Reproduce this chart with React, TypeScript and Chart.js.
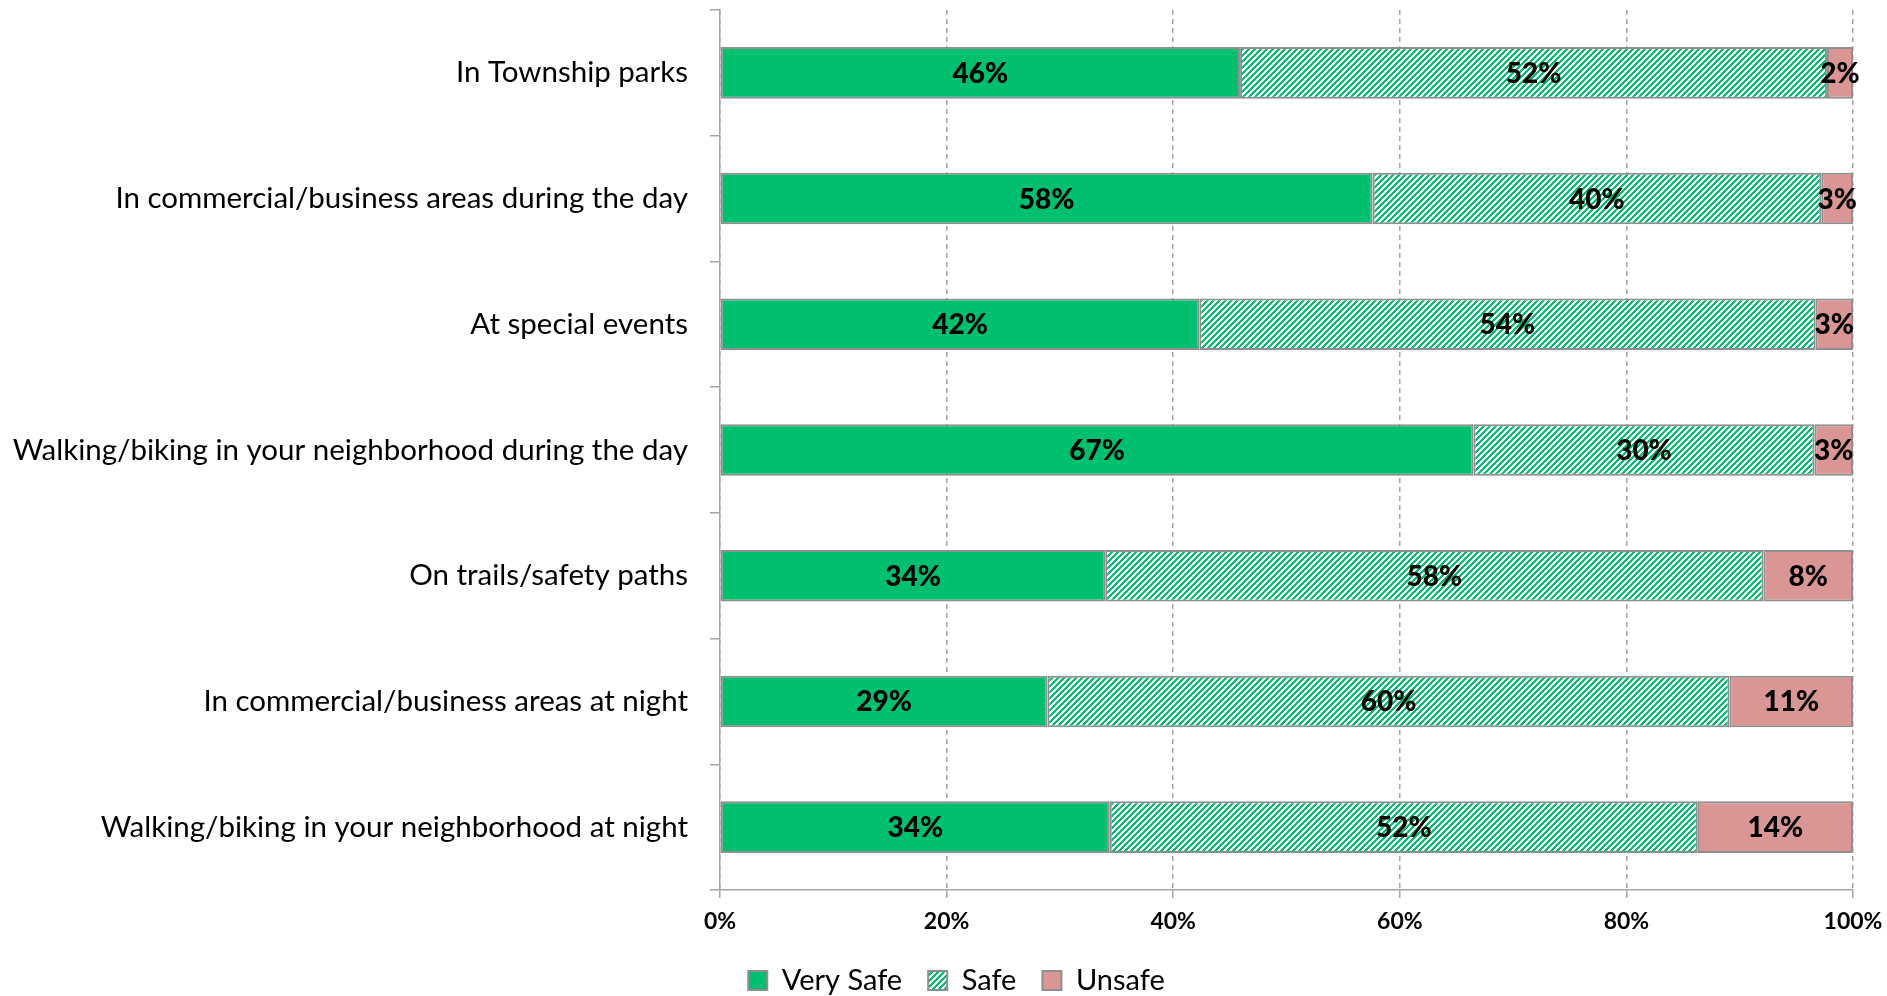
import React, { useEffect, useRef } from "react";
import { Chart, registerables } from "chart.js";

Chart.register(...registerables);

const categories = [
  "In Township parks",
  "In commercial/business areas during the day",
  "At special events",
  "Walking/biking in your neighborhood during the day",
  "On trails/safety paths",
  "In commercial/business areas at night",
  "Walking/biking in your neighborhood at night",
];

const seriesNames = ["Very Safe", "Safe", "Unsafe"];
const verySafe = [45.9, 57.6, 42.3, 66.5, 34.0, 28.9, 34.4];
const safe = [51.8, 39.6, 54.4, 30.1, 58.1, 60.2, 51.9];
const unsafe = [2.3, 2.8, 3.3, 3.4, 7.9, 10.9, 13.7];
const xTicks = [0, 20, 40, 60, 80, 100];

const GREEN = "#00BF6F";
const PINK = "#D99694";
const BORDER = "#8F8F8F";
const AXIS = "#A6A6A6";
const FONT = "Lato";

function makeHatch(): CanvasPattern | string {
  const size = 6;
  const c = document.createElement("canvas");
  c.width = size;
  c.height = size;
  const g = c.getContext("2d");
  if (!g) return GREEN;
  g.fillStyle = "#FFFFFF";
  g.fillRect(0, 0, size, size);
  g.fillStyle = GREEN;
  for (let y = 0; y < size; y++) {
    for (let x = 0; x < size; x++) {
      if ((x + y) % size < 3) g.fillRect(x, y, 1, 1);
    }
  }
  const p = g.createPattern(c, "repeat");
  return p || GREEN;
}

const labelPlugin = {
  id: "barLabels",
  afterDatasetsDraw(chart: any) {
    const ctx = chart.ctx;
    ctx.save();
    ctx.font = `900 28px ${FONT}`;
    ctx.fillStyle = "#000000";
    ctx.textAlign = "center";
    ctx.textBaseline = "middle";
    chart.data.datasets.forEach((ds: any, di: number) => {
      const meta = chart.getDatasetMeta(di);
      meta.data.forEach((el: any, i: number) => {
        const v = ds.data[i];
        const pt = el.getCenterPoint();
        ctx.fillText(`${Math.round(v)}%`, pt.x, pt.y + 1);
      });
    });
    ctx.restore();
  },
};

export default function App() {
  const ref = useRef<HTMLCanvasElement>(null);

  useEffect(() => {
    if (!ref.current) return;
    const hatch = makeHatch();
    const common = {
      borderColor: BORDER,
      borderWidth: 2,
      borderSkipped: false,
      barPercentage: 0.41,
      categoryPercentage: 1,
    };
    const chart = new Chart(ref.current, {
      type: "bar",
      data: {
        labels: categories,
        datasets: [
          { label: seriesNames[0], data: verySafe, backgroundColor: GREEN, ...common },
          { label: seriesNames[1], data: safe, backgroundColor: hatch as any, ...common },
          { label: seriesNames[2], data: unsafe, backgroundColor: PINK, ...common },
        ],
      },
      options: {
        indexAxis: "y",
        animation: false,
        responsive: true,
        maintainAspectRatio: false,
        layout: { padding: { top: 10, right: 34, left: 60, bottom: -9 } },
        scales: {
          x: {
            stacked: true,
            min: 0,
            max: 100,
            afterBuildTicks(scale: any) {
              scale.ticks = xTicks.map((v) => ({ value: v }));
            },
            afterFit(scale: any) {
              scale.height = 50;
              scale.paddingLeft = 0;
              scale.paddingRight = 0;
              scale.paddingTop = 0;
              scale.paddingBottom = 0;
            },
            ticks: {
              callback: (v: any) => `${v}%`,
              font: { family: FONT, size: 23, weight: "bold" },
              color: "#000000",
              padding: 10,
              maxRotation: 0,
            },
            grid: {
              color: AXIS,
              lineWidth: 1.5,
              drawTicks: true,
              tickLength: 8,
              tickBorderDash: [],
              tickColor: AXIS,
              tickWidth: 1.5,
            },
            border: { display: true, color: AXIS, width: 1.5, dash: [5, 4] },
          },
          y: {
            stacked: true,
            afterFit(scale: any) {
              scale.width = 660;
              scale.paddingLeft = 0;
              scale.paddingRight = 0;
              scale.paddingTop = 0;
              scale.paddingBottom = 0;
              scale._computeLabelArea = () => ({
                top: 0,
                left: 0,
                bottom: scale.chart.height,
                right: scale.right,
              });
            },
            ticks: {
              font: { family: FONT, size: 29.5 },
              color: "#000000",
              padding: 22,
            },
            grid: {
              drawOnChartArea: false,
              drawTicks: true,
              tickLength: 10,
              color: AXIS,
              lineWidth: 1.5,
              tickColor: AXIS,
              tickWidth: 1.5,
            },
            border: { display: true, color: AXIS, width: 1.5 },
          },
        },
        plugins: {
          legend: {
            position: "bottom",
            labels: {
              font: { family: FONT, size: 29 },
              color: "#000000",
              boxWidth: 19,
              boxHeight: 19,
              padding: 26,
            },
          },
          tooltip: { enabled: false },
        },
      } as any,
      plugins: [labelPlugin],
    });
    return () => chart.destroy();
  }, []);

  return (
    <div style={{ position: "absolute", left: 0, top: 0, width: 1887, height: 996, background: "#fff" }}>
      <canvas ref={ref} />
    </div>
  );
}
